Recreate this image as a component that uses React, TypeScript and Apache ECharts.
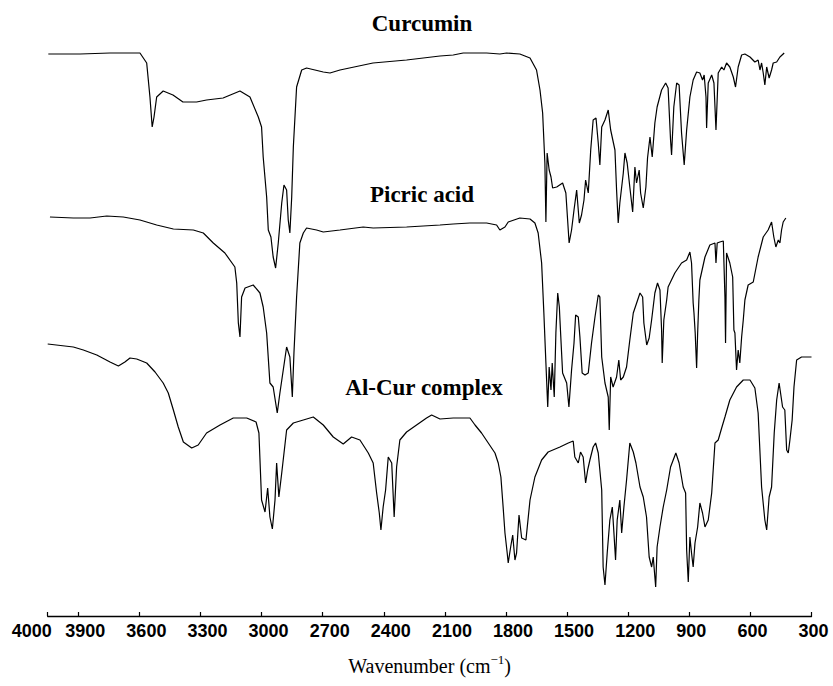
import { useEffect, useRef } from "react";
import * as echarts from "echarts";

// Wavenumber axis (cm^-1); the left end of the scale is labelled "4000"
const tickValues = [4050, 3900, 3600, 3300, 3000, 2700, 2400, 2100, 1800, 1500, 1200, 900, 600, 300];
const tickLabels = ["4000", "3900", "3600", "3300", "3000", "2700", "2400", "2100", "1800", "1500", "1200", "900", "600", "300"];

const seriesNames = ["Curcumin", "Picric acid", "Al-Cur complex"];

// [wavenumber, offset transmittance (arb. units)]
const curcumin: [number, number][] = [
  [4047, 562], [3891, 562], [3744, 563], [3597, 563], [3564, 553], [3548, 519], [3537, 489], [3528, 499], [3515, 519], [3483, 525],
  [3435, 521], [3386, 514], [3319, 514], [3270, 516], [3189, 518], [3106, 525], [3057, 519], [3016, 499], [3000, 489], [2992, 459],
  [2975, 419], [2967, 386], [2954, 379], [2943, 359], [2931, 348], [2918, 373], [2901, 413], [2890, 431], [2877, 426], [2869, 396],
  [2861, 383], [2852, 419], [2844, 469], [2828, 529], [2803, 546], [2779, 548], [2697, 544], [2664, 543], [2615, 546], [2453, 553],
  [2288, 556], [2124, 560], [2059, 561], [2010, 563], [1895, 563], [1830, 562], [1797, 563], [1732, 562], [1682, 558], [1650, 546],
  [1633, 526], [1620, 503], [1609, 453], [1604, 394], [1598, 463], [1588, 446], [1579, 439], [1571, 428], [1551, 429], [1522, 433],
  [1506, 423], [1490, 373], [1478, 386], [1466, 406], [1453, 426], [1440, 393], [1429, 401], [1417, 416], [1409, 436], [1396, 423],
  [1384, 466], [1372, 496], [1358, 498], [1347, 473], [1339, 451], [1330, 489], [1314, 496], [1298, 506], [1286, 486], [1265, 466],
  [1257, 426], [1249, 393], [1241, 413], [1224, 443], [1216, 463], [1205, 453], [1192, 429], [1178, 404], [1167, 449], [1159, 433],
  [1146, 446], [1139, 423], [1126, 408], [1113, 429], [1105, 458], [1093, 479], [1082, 459], [1069, 493], [1058, 509], [1036, 526],
  [1016, 533], [1004, 528], [992, 476], [987, 461], [976, 509], [962, 533], [950, 531], [938, 483], [925, 451], [913, 486],
  [897, 519], [881, 536], [864, 544], [848, 543], [835, 536], [827, 541], [818, 519], [815, 488], [807, 533], [790, 541],
  [779, 533], [769, 486], [758, 543], [741, 549], [730, 546], [717, 553], [701, 549], [684, 539], [673, 529], [660, 549],
  [643, 561], [627, 562], [602, 559], [578, 554], [562, 556], [553, 546], [545, 553], [537, 543], [529, 531], [520, 549],
  [508, 538], [496, 546], [488, 553], [471, 554], [455, 559], [434, 563],
];

const picricAcid: [number, number][] = [
  [4039, 399], [3924, 398], [3842, 398], [3760, 400], [3679, 399], [3597, 396], [3515, 391], [3433, 387], [3335, 386], [3286, 383],
  [3237, 373], [3180, 363], [3131, 349], [3122, 333], [3114, 293], [3106, 279], [3098, 319], [3081, 328], [3041, 331], [3008, 323],
  [2992, 309], [2975, 283], [2959, 233], [2943, 229], [2923, 203], [2910, 223], [2877, 269], [2861, 259], [2849, 219], [2841, 263],
  [2828, 319], [2812, 373], [2795, 383], [2779, 388], [2730, 386], [2697, 384], [2615, 386], [2501, 389], [2452, 388], [2288, 389],
  [2124, 391], [2059, 392], [1977, 393], [1895, 393], [1846, 391], [1830, 386], [1805, 389], [1789, 394], [1732, 398], [1682, 397],
  [1658, 393], [1642, 383], [1625, 353], [1614, 303], [1604, 253], [1595, 209], [1588, 249], [1579, 226], [1573, 253], [1563, 219],
  [1555, 283], [1546, 323], [1538, 309], [1535, 296], [1522, 243], [1502, 233], [1491, 209], [1478, 246], [1466, 273], [1458, 301],
  [1445, 299], [1437, 279], [1426, 243], [1412, 241], [1396, 243], [1380, 273], [1363, 299], [1347, 321], [1339, 319], [1330, 259],
  [1314, 233], [1298, 219], [1293, 186], [1286, 239], [1274, 229], [1257, 239], [1246, 256], [1237, 236], [1224, 239], [1208, 249],
  [1192, 276], [1175, 303], [1142, 323], [1129, 319], [1123, 293], [1109, 271], [1097, 278], [1085, 296], [1069, 323], [1056, 333],
  [1044, 326], [1036, 286], [1033, 253], [1025, 296], [1011, 316], [1004, 329], [971, 343], [938, 353], [913, 356], [897, 364],
  [889, 353], [881, 313], [877, 303], [871, 283], [864, 248], [859, 283], [853, 316], [848, 336], [823, 359], [799, 371],
  [774, 373], [769, 353], [763, 373], [750, 374], [733, 375], [725, 319], [722, 273], [717, 363], [701, 353], [687, 339],
  [681, 286], [676, 283], [668, 246], [660, 266], [652, 253], [643, 279], [635, 296], [627, 316], [611, 331], [586, 334],
  [562, 359], [537, 379], [513, 386], [496, 394], [485, 379], [475, 369], [463, 376], [455, 373], [447, 386], [439, 394],
  [426, 398],
];

const alCurComplex: [number, number][] = [
  [4050, 272], [3924, 269], [3875, 266], [3809, 261], [3744, 254], [3703, 250], [3671, 254], [3646, 258], [3613, 257], [3564, 253],
  [3523, 244], [3483, 233], [3458, 223], [3433, 206], [3409, 189], [3384, 174], [3343, 168], [3311, 171], [3270, 183], [3204, 191],
  [3139, 198], [3073, 198], [3027, 194], [3013, 183], [3000, 116], [2983, 104], [2970, 128], [2959, 99], [2947, 87], [2934, 116],
  [2926, 153], [2915, 119], [2901, 143], [2877, 186], [2844, 193], [2795, 196], [2746, 199], [2697, 191], [2648, 179], [2599, 172],
  [2558, 179], [2517, 176], [2476, 163], [2452, 153], [2435, 123], [2422, 103], [2414, 86], [2403, 109], [2391, 126], [2378, 159],
  [2361, 153], [2349, 99], [2337, 149], [2321, 176], [2288, 184], [2239, 191], [2190, 198], [2165, 201], [2124, 197], [2059, 198],
  [1977, 198], [1952, 191], [1920, 183], [1887, 173], [1854, 163], [1838, 153], [1825, 139], [1814, 109], [1805, 83], [1794, 63],
  [1789, 53], [1777, 69], [1767, 81], [1756, 56], [1748, 63], [1736, 101], [1723, 78], [1702, 76], [1682, 116], [1658, 139],
  [1625, 156], [1593, 164], [1535, 169], [1494, 173], [1470, 175], [1462, 159], [1445, 153], [1434, 164], [1421, 159], [1409, 133],
  [1399, 146], [1388, 156], [1372, 169], [1360, 173], [1347, 163], [1330, 126], [1323, 49], [1314, 31], [1303, 63], [1290, 96],
  [1278, 109], [1270, 83], [1262, 56], [1254, 96], [1241, 116], [1232, 83], [1221, 109], [1208, 136], [1192, 173], [1175, 164],
  [1162, 153], [1142, 129], [1126, 119], [1110, 99], [1097, 59], [1085, 49], [1077, 59], [1065, 29], [1058, 69], [1044, 89],
  [1028, 109], [1011, 126], [992, 149], [966, 163], [950, 153], [930, 129], [918, 123], [913, 66], [905, 34], [897, 79],
  [889, 63], [881, 49], [872, 73], [859, 89], [848, 113], [835, 103], [823, 89], [807, 96], [790, 123], [774, 173],
  [758, 176], [741, 188], [725, 199], [701, 216], [668, 229], [635, 236], [602, 236], [578, 228], [562, 203], [545, 129],
  [529, 96], [520, 86], [508, 119], [496, 129], [483, 183], [471, 216], [459, 233], [442, 209], [431, 206], [422, 166],
  [414, 163], [406, 176], [395, 196], [386, 229], [373, 256], [349, 259], [300, 259],
];

const labelFor = (v: number) => {
  const i = tickValues.indexOf(Math.round(v));
  return i >= 0 ? tickLabels[i] : String(v);
};

export default function App() {
  const ref = useRef<HTMLDivElement>(null);
  useEffect(() => {
    if (!ref.current) return;
    const chart = echarts.init(ref.current, undefined, { renderer: "svg" });
    const titleStyle = {
      fontFamily: "'Liberation Serif', 'Times New Roman', serif",
      fontWeight: "bold",
      fontSize: 23,
      fill: "#000",
      textAlign: "center",
      textVerticalAlign: "middle",
    };
    const xMin = 300;
    const xMax = 4050;
    chart.setOption({
      animation: false,
      backgroundColor: "#fff",
      grid: { left: 47.7, right: 21.5, top: 16, bottom: 70, containLabel: false, outerBoundsMode: "none" },
      xAxis: [
        {
          type: "value",
          inverse: true,
          min: xMin,
          max: xMax,
          position: "bottom",
          splitLine: { show: false },
          axisLine: { show: true, onZero: false, lineStyle: { color: "#000", width: 1.4 } },
          axisTick: { show: true, inside: true, length: 4, customValues: tickValues, lineStyle: { color: "#000", width: 1.2 } },
          axisLabel: {
            show: true,
            customValues: tickValues.slice(1),
            formatter: (v: number) => labelFor(v),
            align: "left",
            padding: [0, 0, 0, -13],
            margin: 6,
            color: "#000",
            fontFamily: "'Liberation Sans', Arial, sans-serif",
            fontWeight: "bold",
            fontSize: 18,
          },
          name: "{a|Wavenumber (cm}{b|−1}{a|)}",
          nameLocation: "middle",
          nameGap: 37,
          nameTextStyle: {
            rich: {
              a: { fontFamily: "'Liberation Serif', 'Times New Roman', serif", fontSize: 20, color: "#000", lineHeight: 26 },
              b: { fontFamily: "'Liberation Serif', 'Times New Roman', serif", fontSize: 13, color: "#000", lineHeight: 18, verticalAlign: "top" },
            },
          },
        },
        {
          type: "value",
          inverse: true,
          min: xMin,
          max: xMax,
          position: "bottom",
          splitLine: { show: false },
          axisLine: { show: false, onZero: false },
          axisTick: { show: false },
          axisLabel: {
            show: true,
            customValues: [tickValues[0]],
            formatter: (v: number) => labelFor(v),
            align: "left",
            padding: [0, 0, 0, -36],
            margin: 6,
            color: "#000",
            fontFamily: "'Liberation Sans', Arial, sans-serif",
            fontWeight: "bold",
            fontSize: 18,
          },
        },
      ],
      yAxis: { type: "value", min: 0, max: 600, show: false },
      graphic: [
        { type: "text", x: 422, y: 23.5, style: { ...titleStyle, text: seriesNames[0] } },
        { type: "text", x: 422, y: 194, style: { ...titleStyle, text: seriesNames[1] } },
        { type: "text", x: 424, y: 387, style: { ...titleStyle, text: seriesNames[2] } },
      ],
      series: [curcumin, picricAcid, alCurComplex].map((d, i) => ({
        name: seriesNames[i],
        type: "line",
        data: d,
        showSymbol: false,
        symbol: "none",
        lineStyle: { color: "#000", width: 1.2 },
        emphasis: { disabled: true },
      })),
    });
    return () => chart.dispose();
  }, []);
  return <div ref={ref} style={{ position: "fixed", left: 0, top: 0, width: 833, height: 686, background: "#fff" }} />;
}
